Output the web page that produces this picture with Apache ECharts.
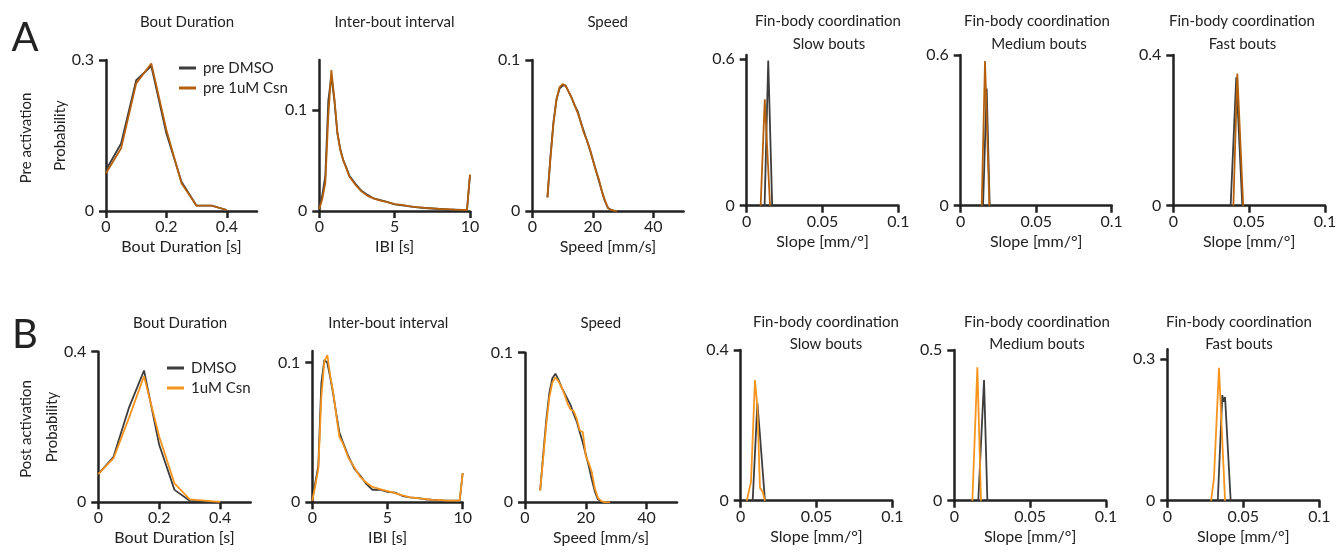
<!DOCTYPE html>
<html>
<head>
<meta charset="utf-8">
<script src="https://cdn.jsdelivr.net/npm/echarts@6/dist/echarts.min.js"></script>
<style>html,body{margin:0;padding:0;background:#fff}#c{width:1340px;height:552px}</style>
</head>
<body>
<div id="c"></div>
<script>
// ---------------- DATA ----------------
// Row A (pre activation)
const boutX = [0, 0.05, 0.1, 0.15, 0.2, 0.25, 0.3, 0.35, 0.4];
const preBoutDMSO = [0.0815, 0.134, 0.260, 0.288, 0.154, 0.058, 0.0106, 0.0106, 0.002];
const preBoutCsn  = [0.075, 0.1245, 0.2536, 0.293, 0.161, 0.055, 0.0106, 0.0106, 0.002];

const ibiX = [0, 0.2, 0.4, 0.6, 0.8, 1.0, 1.2, 1.4, 1.6, 1.8, 2.0, 2.4, 2.8, 3.2, 3.6, 4.0, 4.5, 5.0, 5.5, 6.0, 6.5, 7.0, 7.5, 8.0, 8.5, 9.0, 9.5, 9.8, 10.0];
const preIbiDMSO = [0.003, 0.016, 0.035, 0.110, 0.134, 0.110, 0.077, 0.061, 0.050, 0.043, 0.035, 0.027, 0.020, 0.016, 0.0125, 0.011, 0.009, 0.0065, 0.0055, 0.0045, 0.0035, 0.003, 0.0025, 0.002, 0.0015, 0.0013, 0.001, 0.001, 0.036];
const preIbiCsn  = [0.002, 0.012, 0.028, 0.095, 0.140, 0.112, 0.078, 0.060, 0.050, 0.042, 0.034, 0.026, 0.0195, 0.015, 0.0125, 0.0105, 0.0088, 0.0069, 0.006, 0.0045, 0.0038, 0.003, 0.0026, 0.002, 0.0018, 0.0014, 0.0012, 0.001, 0.036];

const speedX = [5, 6, 7, 8, 9, 10, 11, 12, 13, 14, 15, 16, 17, 18, 19, 20, 21, 22, 23, 24, 25, 26, 27, 28];
const preSpeedDMSO = [0.009, 0.036, 0.059, 0.074, 0.081, 0.083, 0.083, 0.079, 0.075, 0.070, 0.066, 0.059, 0.053, 0.047, 0.041, 0.034, 0.027, 0.020, 0.013, 0.0065, 0.002, 0.0008, 0.0003, 0.0001];
const preSpeedCsn  = [0.009, 0.035, 0.058, 0.074, 0.082, 0.084, 0.083, 0.079, 0.075, 0.070, 0.065, 0.059, 0.052, 0.047, 0.041, 0.034, 0.027, 0.021, 0.013, 0.007, 0.002, 0.0008, 0.0003, 0.0001];

const preSlowDMSO_x = [0.0118, 0.0142, 0.0168];
const preSlowDMSO_y = [0, 0.593, 0];
const preSlowCsn_x  = [0.0092, 0.0119, 0.0154];
const preSlowCsn_y  = [0, 0.435, 0];
const preMedDMSO_x  = [0.0148, 0.0172, 0.0192];
const preMedDMSO_y  = [0, 0.467, 0];
const preMedCsn_x   = [0.0139, 0.0161, 0.019];
const preMedCsn_y   = [0, 0.576, 0];
const preFastDMSO_x = [0.0378, 0.0415, 0.0455];
const preFastDMSO_y = [0, 0.341, 0];
const preFastCsn_x  = [0.0396, 0.0422, 0.0461];
const preFastCsn_y  = [0, 0.351, 0];

// Row B (post activation)
const postBoutDMSO = [0.075, 0.121, 0.250, 0.350, 0.152, 0.033, 0.004, 0.001, 0.0];
const postBoutCsn  = [0.075, 0.117, 0.223, 0.335, 0.174, 0.050, 0.008, 0.0045, 0.001];

const postIbiDMSO = [0.002, 0.014, 0.026, 0.085, 0.102, 0.100, 0.089, 0.077, 0.063, 0.050, 0.044, 0.033, 0.024, 0.019, 0.013, 0.009, 0.009, 0.0075, 0.007, 0.0045, 0.0035, 0.003, 0.0022, 0.0017, 0.0014, 0.0011, 0.0012, 0.0012, 0.021];
const postIbiCsn  = [0.001, 0.012, 0.024, 0.075, 0.101, 0.1055, 0.090, 0.078, 0.062, 0.047, 0.043, 0.032, 0.025, 0.018, 0.014, 0.011, 0.0095, 0.008, 0.0065, 0.005, 0.0036, 0.003, 0.0024, 0.0018, 0.0015, 0.0012, 0.0012, 0.0012, 0.021];

const postSpeedDMSO = [0.008, 0.032, 0.055, 0.073, 0.083, 0.086, 0.082, 0.077, 0.073, 0.069, 0.065, 0.059, 0.054, 0.047, 0.040, 0.032, 0.024, 0.015, 0.007, 0.002, 0.0005, 0.0001, 0.0, 0.0];
const postSpeedCsn  = [0.008, 0.030, 0.052, 0.070, 0.080, 0.0835, 0.081, 0.077, 0.072, 0.066, 0.062, 0.061, 0.056, 0.048, 0.047, 0.031, 0.026, 0.020, 0.009, 0.003, 0.001, 0.0002, 0.0, 0.0];

const postSlowDMSO_x = [0.0079, 0.011, 0.0127, 0.016];
const postSlowDMSO_y = [0, 0.259, 0.174, 0];
const postSlowCsn_x  = [0.004, 0.0068, 0.0094, 0.011, 0.0127, 0.0145, 0.016];
const postSlowCsn_y  = [0, 0.05, 0.32, 0.25, 0.034, 0.024, 0];
const postMedDMSO_x  = [0.0158, 0.0196, 0.0218];
const postMedDMSO_y  = [0, 0.40, 0];
const postMedCsn_x   = [0.0119, 0.0152, 0.0176];
const postMedCsn_y   = [0, 0.443, 0];
const postFastDMSO_x = [0.0332, 0.0362, 0.037, 0.038, 0.0417];
const postFastDMSO_y = [0, 0.224, 0.21, 0.22, 0];
const postFastCsn_x  = [0.0288, 0.0307, 0.034, 0.038];
const postFastCsn_y  = [0, 0.048, 0.282, 0];

// Tick labels
const boutTicks = [0, 0.2, 0.4];
const ibiTicks = [0, 5, 10];
const speedTicks = [0, 20, 40];
const slopeTicks = [0, 0.05, 0.1];

// Text
const legendPre = ['pre DMSO', 'pre 1uM Csn'];
const legendPost = ['DMSO', '1uM Csn'];

// ---------------- CHART ----------------
const FONT = 'Lato, "DejaVu Sans", sans-serif';
const INK = '#222';
const C_DMSO = '#3d3d3d';
const C_PRE = '#b5600c';
const C_POST = '#f7941e';

const zip = (xs, ys) => xs.map((x, k) => [x, ys[k]]);

const panels = [
  // row A
  {g:[106, 60, 151, 151], xMax:0.5, yMax:0.3, xt:boutTicks, yt:[0,0.3], xName:'Bout Duration [s]', yName:'Probability',
   s:[['pre DMSO', zip(boutX, preBoutDMSO), C_DMSO], ['pre 1uM Csn', zip(boutX, preBoutCsn), C_PRE]]},
  {g:[319.3, 60, 150.7, 151], xMax:10, yMax:0.15, xt:ibiTicks, yt:[0,0.1], xName:'IBI [s]',
   s:[['pre DMSO', zip(ibiX, preIbiDMSO), C_DMSO], ['pre 1uM Csn', zip(ibiX, preIbiCsn), C_PRE]]},
  {g:[532.3, 60, 151.3, 151], xMax:50, yMax:0.1, xt:speedTicks, yt:[0,0.1], xName:'Speed [mm/s]',
   s:[['pre DMSO', zip(speedX, preSpeedDMSO), C_DMSO], ['pre 1uM Csn', zip(speedX, preSpeedCsn), C_PRE]]},
  {g:[746.7, 55, 151.7, 150.7], xMax:0.1, yMax:0.616, xt:slopeTicks, yt:[0,0.6], xName:'Slope [mm/°]',
   s:[['pre DMSO', zip(preSlowDMSO_x, preSlowDMSO_y), C_DMSO], ['pre 1uM Csn', zip(preSlowCsn_x, preSlowCsn_y), C_PRE]]},
  {g:[960.7, 55, 151, 150.7], xMax:0.1, yMax:0.6, xt:slopeTicks, yt:[0,0.6], xName:'Slope [mm/°]',
   s:[['pre DMSO', zip(preMedDMSO_x, preMedDMSO_y), C_DMSO], ['pre 1uM Csn', zip(preMedCsn_x, preMedCsn_y), C_PRE]]},
  {g:[1173.3, 55, 151.7, 150.7], xMax:0.1, yMax:0.4, xt:slopeTicks, yt:[0,0.4], xName:'Slope [mm/°]',
   s:[['pre DMSO', zip(preFastDMSO_x, preFastDMSO_y), C_DMSO], ['pre 1uM Csn', zip(preFastCsn_x, preFastCsn_y), C_PRE]]},
  // row B
  {g:[98.3, 351.7, 152.4, 150.6], xMax:0.5, yMax:0.4, xt:boutTicks, yt:[0,0.4], xName:'Bout Duration [s]', yName:'Probability',
   s:[['DMSO', zip(boutX, postBoutDMSO), C_DMSO], ['1uM Csn', zip(boutX, postBoutCsn), C_POST]]},
  {g:[312.3, 351, 150.4, 151.3], xMax:10, yMax:0.1084, xt:ibiTicks, yt:[0,0.1], xName:'IBI [s]',
   s:[['DMSO', zip(ibiX, postIbiDMSO), C_DMSO], ['1uM Csn', zip(ibiX, postIbiCsn), C_POST]]},
  {g:[525, 352.7, 152, 149.6], xMax:50, yMax:0.1, xt:speedTicks, yt:[0,0.1], xName:'Speed [mm/s]',
   s:[['DMSO', zip(speedX, postSpeedDMSO), C_DMSO], ['1uM Csn', zip(speedX, postSpeedCsn), C_POST]]},
  {g:[740.7, 350, 151.6, 150.7], xMax:0.1, yMax:0.4, xt:slopeTicks, yt:[0,0.4], xName:'Slope [mm/°]',
   s:[['DMSO', zip(postSlowDMSO_x, postSlowDMSO_y), C_DMSO], ['1uM Csn', zip(postSlowCsn_x, postSlowCsn_y), C_POST]]},
  {g:[954.3, 350, 151.7, 150.7], xMax:0.1, yMax:0.5, xt:slopeTicks, yt:[0,0.5], xName:'Slope [mm/°]',
   s:[['DMSO', zip(postMedDMSO_x, postMedDMSO_y), C_DMSO], ['1uM Csn', zip(postMedCsn_x, postMedCsn_y), C_POST]]},
  {g:[1167.3, 349.3, 152, 151.4], xMax:0.1, yMax:0.321, xt:slopeTicks, yt:[0,0.3], xName:'Slope [mm/°]',
   s:[['DMSO', zip(postFastDMSO_x, postFastDMSO_y), C_DMSO], ['1uM Csn', zip(postFastCsn_x, postFastCsn_y), C_POST]]}
];

const axisCommon = (ticks) => ({
  type: 'value', min: 0,
  axisLine: {show: true, onZero: false, lineStyle: {color: INK, width: 2.5}},
  axisTick: {show: true, inside: false, length: 7, lineStyle: {color: INK, width: 2.5}, customValues: ticks},
  axisLabel: {customValues: ticks, color: INK, fontSize: 16, fontFamily: FONT},
  splitLine: {show: false}
});

const grid = [], xAxis = [], yAxis = [], series = [];
panels.forEach((p, i) => {
  grid.push({left: p.g[0], top: p.g[1], width: p.g[2], height: p.g[3], containLabel: false, outerBoundsMode: 'none'});
  const xa = axisCommon(p.xt);
  Object.assign(xa, {gridIndex: i, max: p.xMax, name: p.xName, nameLocation: 'middle', nameGap: 28,
    nameTextStyle: {color: INK, fontSize: 16, fontFamily: FONT}});
  xa.axisLabel.margin = 8;
  xAxis.push(xa);
  const ya = axisCommon(p.yt);
  Object.assign(ya, {gridIndex: i, max: p.yMax});
  ya.axisLabel.margin = 12;
  if (p.yName) Object.assign(ya, {name: p.yName, nameLocation: 'middle', nameGap: 31, nameRotate: 90,
    nameTextStyle: {color: INK, fontSize: 15, fontFamily: FONT}});
  yAxis.push(ya);
  p.s.forEach(([name, data, color]) => {
    series.push({type: 'line', name, xAxisIndex: i, yAxisIndex: i, data, symbol: 'none', showSymbol: false,
      lineStyle: {color, width: 1.8}, itemStyle: {color}, silent: true});
  });
});

const txt = (text, x, y, size, extra) => Object.assign({type: 'text', x, y,
  style: {text, fill: INK, fontSize: size, fontFamily: FONT, align: 'center', verticalAlign: 'middle'}}, extra || {});

const graphic = [
  txt('A', 25, 38, 40), txt('B', 25, 335, 40),
  txt('Pre activation', 26, 138, 15, {rotation: Math.PI / 2}),
  txt('Post activation', 26, 429, 15, {rotation: Math.PI / 2}),
  txt('Bout Duration', 187, 22, 15), txt('Inter-bout interval', 394.5, 22, 15), txt('Speed', 607.7, 22, 15),
  txt('Fin-body coordination', 828, 21, 15), txt('Slow bouts', 829, 44, 15),
  txt('Fin-body coordination', 1037, 21, 15), txt('Medium bouts', 1039, 44, 15),
  txt('Fin-body coordination', 1242, 21, 15), txt('Fast bouts', 1242.5, 44, 15),
  txt('Bout Duration', 180, 322.7, 15), txt('Inter-bout interval', 388.3, 322.7, 15), txt('Speed', 600.8, 322.7, 15),
  txt('Fin-body coordination', 826, 322, 15), txt('Slow bouts', 826, 344.3, 15),
  txt('Fin-body coordination', 1037, 322, 15), txt('Medium bouts', 1037, 344.3, 15),
  txt('Fin-body coordination', 1239, 322, 15), txt('Fast bouts', 1239, 344.3, 15)
];

const legendBase = {orient: 'vertical', icon: 'rect', itemWidth: 17, itemHeight: 3, itemGap: 4,
  textStyle: {color: INK, fontSize: 15, fontFamily: FONT, lineHeight: 16, padding: [0, 0, 0, 2]}, selectedMode: false};

const option = {
  animation: false,
  backgroundColor: '#fff',
  grid, xAxis, yAxis, series, graphic,
  legend: [
    Object.assign({}, legendBase, {data: legendPre, left: 174, top: 55}),
    Object.assign({}, legendBase, {data: legendPost, left: 162, top: 355})
  ]
};

const chart = echarts.init(document.getElementById('c'), null, {renderer: 'canvas'});
chart.setOption(option);
</script>
</body>
</html>
